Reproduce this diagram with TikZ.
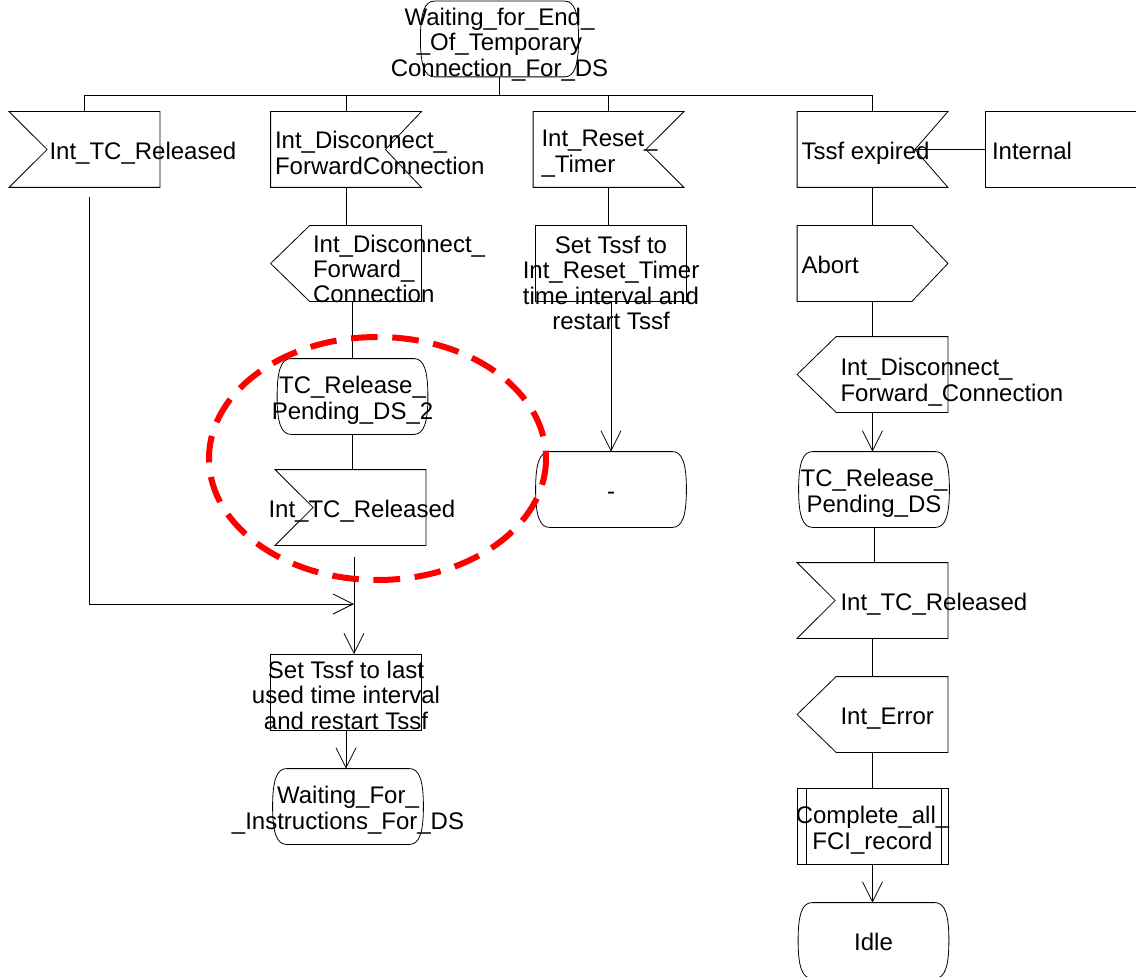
\documentclass[tikz,border=0pt]{standalone}
\usepackage{fontspec}
\setmainfont{Liberation Sans}
\usetikzlibrary{calc,arrows.meta}

% symbol texts do not change the symbol size:
% \ctxt[drop]{lines} is centred, \ltxt[drop]{indent}{lines} starts indent px from the west side
\newcommand{\ctxt}[2][0]{\smash{\makebox[0pt]{\raisebox{\dimexpr-8pt-#1pt*3/4\relax}{\begin{tabular}{@{}c@{}}#2\end{tabular}}}}}
\newcommand{\ltxt}[3][0]{\smash{\makebox[0pt][l]{\hspace*{\dimexpr(#2pt-75pt)*3/4\relax}\raisebox{\dimexpr-8pt-#1pt*3/4\relax}{\begin{tabular}{@{}l@{}}#3\end{tabular}}}}}

\begin{document}
\begin{tikzpicture}[x=0.75pt,y=-0.75pt,line width=0.6pt,
  sdl/.style={minimum width=112.5pt,minimum height=56.25pt,inner sep=0pt,
    font=\fontsize{18}{19}\selectfont},
  flow/.style={-{Straight Barb[length=15pt,width=15pt]}},
  ring/.style={red,line width=4.5pt,dash pattern=on 20pt off 11pt}]
\useasboundingbox (0,0) rectangle (1136,977);

\node[sdl,minimum width=118pt] (top) at (499.5,39) {\ctxt[2]{Waiting\_for\_End\_\\\_Of\_Temporary\\Connection\_For\_DS}};

% inputs
\node[sdl] (rel1) at (84.5,149.5) {\ltxt{40}{Int\_TC\_Released}};
\node[sdl] (disc) at (346,149.5) {\ltxt[2]{4}{Int\_Disconnect\_\\ForwardConnection}};
\node[sdl] (reset) at (608.5,149.5) {\ltxt{8}{Int\_Reset\_\\\_Timer}};
\node[sdl] (tssf) at (872.5,149.5) {\ltxt{4}{Tssf expired}};
\node[sdl] (ext) at (1061,149.5) {\ltxt{6}{Internal}};

% disconnect branch
\node[sdl] (fwd1) at (346,263.5) {\ltxt[4]{42}{Int\_Disconnect\_\\Forward\_\\Connection}};
\node[sdl] (pend2) at (352.5,396.5) {\ctxt{TC\_Release\_\\Pending\_DS\_2}};
\node[sdl] (rel2) at (350.5,507.5) {\ltxt{-7}{Int\_TC\_Released}};
\node[sdl] (set1) at (346,692) {\ctxt[2]{Set Tssf to last\\used time interval\\and restart Tssf}};
\node[sdl] (wait) at (348,806.5) {\ctxt{Waiting\_For\_\\\_Instructions\_For\_DS}};

% reset branch
\node[sdl] (set2) at (611,263.5) {\ctxt[18]{Set Tssf to\\Int\_Reset\_Timer\\time interval and\\restart Tssf}};
\node[sdl] (dash) at (611,489.5) {\ctxt{-}};

% timer branch
\node[sdl] (abort) at (872.5,263.5) {\ltxt{4}{Abort}};
\node[sdl] (fwd2) at (872.5,374.5) {\ltxt[4]{43}{Int\_Disconnect\_\\Forward\_Connection}};
\node[sdl] (pend) at (874,489.5) {\ctxt{TC\_Release\_\\Pending\_DS}};
\node[sdl] (rel3) at (872.5,600.5) {\ltxt{43}{Int\_TC\_Released}};
\node[sdl] (err) at (872.5,714.5) {\ltxt{43}{Int\_Error}};
\node[sdl] (fci) at (872.5,826.5) {\ctxt{Complete\_all\_\\FCI\_record}};
\node[sdl] (idle) at (873.5,940.5) {\ctxt{Idle}};

% input symbols
\foreach \n in {rel1,rel2,rel3}
  \draw (\n.north west) -- (\n.north east) -- (\n.south east) -- (\n.south west)
    -- ($(\n.west)+(38,0)$) -- cycle;
\foreach \n/\d in {disc/36,reset/38,tssf/33}
  \draw (\n.north east) -- (\n.north west) -- (\n.south west) -- (\n.south east)
    -- ($(\n.east)+(-\d,0)$) -- cycle;
% output symbols
\foreach \n in {fwd1,fwd2,err}
  \draw ($(\n.north west)+(39,0)$) -- (\n.north east) -- (\n.south east)
    -- ($(\n.south west)+(39,0)$) -- (\n.west) -- cycle;
\draw (abort.north west) -- ($(abort.north east)+(-36,0)$) -- (abort.east)
  -- ($(abort.south east)+(-36,0)$) -- (abort.south west) -- cycle;
% tasks and text box
\foreach \n in {set1,set2,ext}
  \draw (\n.north west) rectangle (\n.south east);
% procedure call
\draw (fci.north west) rectangle (fci.south east)
  ($(fci.north west)+(9,0)$) -- ($(fci.south west)+(9,0)$)
  ($(fci.north east)+(-7,0)$) -- ($(fci.south east)+(-7,0)$);
% states
\foreach \n in {top,pend2,dash,pend,wait,idle}
  \draw ($(\n.north west)+(14,0)$) -- ($(\n.north east)+(-14,0)$)
    .. controls ($(\n.north east)+(-4,0)$) and ($(\n.east)+(0,-26)$) .. (\n.east)
    .. controls ($(\n.east)+(0,26)$) and ($(\n.south east)+(-4,0)$) .. ($(\n.south east)+(-14,0)$)
    -- ($(\n.south west)+(14,0)$)
    .. controls ($(\n.south west)+(4,0)$) and ($(\n.west)+(0,26)$) .. (\n.west)
    .. controls ($(\n.west)+(0,-26)$) and ($(\n.north west)+(4,0)$) .. ($(\n.north west)+(14,0)$)
    -- cycle;

% connectors
\coordinate (bus) at (497,95);
\coordinate (merge) at (354,604);
\draw (top.south) -- (top.south |- bus);
\draw (rel1.north |- bus) -- (tssf.north |- bus);
\foreach \n in {rel1,disc,reset,tssf}
  \draw (\n.north |- bus) -- (\n.north);
\draw (disc.south) -- (fwd1.north);
\draw (pend2.north |- fwd1.south) -- (pend2.north);
\draw (pend2.south) -- (pend2.south |- rel2.north);
\draw[flow] ($(rel1.south)+(5,10)$) |- (merge);
\draw[flow] ($(merge |- rel2.south)+(0,12)$) -- (merge |- set1.north);
\draw[flow] (set1.south) -- (set1.south |- wait.north);
\draw (reset.south) -- (reset.south |- set2.north);
\draw[flow] (set2.south) -- (set2.south |- dash.north);
\draw (tssf.south) -- (abort.north);
\draw ($(tssf.east)+(-33,0)$) -- (ext.west);
\draw (abort.south) -- (fwd2.north);
\draw[flow] (fwd2.south) -- (fwd2.south |- pend.north);
\draw (pend.south) -- (pend.south |- rel3.north);
\draw (rel3.south) -- (err.north);
\draw (err.south) -- (fci.north);
\draw[flow] (fci.south) -- (fci.south |- idle.north);

% highlighted part
\draw[ring] (377.5,458.5) ellipse [x radius=168.5, y radius=121.5];
\end{tikzpicture}
\end{document}
